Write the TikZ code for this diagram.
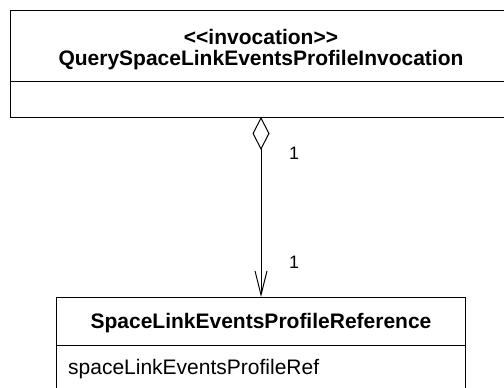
\documentclass[tikz,border=0pt]{standalone}
\usepackage{fontspec}
\setmainfont{Liberation Sans}
\usetikzlibrary{arrows.meta,shapes.geometric}
\begin{document}
\begin{tikzpicture}[x=1pt,y=-1pt,
  boxline/.style={draw=black,line width=1pt},
  titletext/.style={font=\fontsize{21}{21}\selectfont\bfseries,inner sep=0pt,anchor=base},
  plaintext/.style={font=\fontsize{21}{21}\selectfont,inner sep=0pt,anchor=base},
  multtext/.style={font=\fontsize{18}{18}\selectfont,inner sep=0pt,anchor=base west},
  agg/.style={line width=1pt,
    {Diamond[open,length=33pt,width=17pt,line width=1pt]}-{Straight Barb[length=24pt,width=12pt,line width=1pt]}}]
\useasboundingbox (0,0) rectangle (504,388);
\fill[white] (0,0) rectangle (504,388);
\clip (0,0) rectangle (504,388);
% top class
\draw[boxline] (10,10) rectangle (508,117);
\draw[boxline] (10,81) -- (508,81);
\node[titletext] (st) at (261,45) {<{}<invocation>{}>};
\node[titletext] (inv) at (261,65) {QuerySpaceLinkEventsProfileInvocation};
% bottom class
\draw[boxline] (56,297) rectangle (465,392);
\draw[boxline] (56,345) -- (465,345);
\node[titletext] (ref) at (261,328) {SpaceLinkEventsProfileReference};
\node[plaintext,anchor=base west] (attr) at (68,374) {spaceLinkEventsProfileRef};
% connector
\coordinate (a) at (261,117);
\coordinate (b) at (261,297);
\draw[agg] (a) -- (b);
\node[multtext] (m1) at (289,159) {1};
\node[multtext] (m2) at (289,268) {1};
\end{tikzpicture}
\end{document}
